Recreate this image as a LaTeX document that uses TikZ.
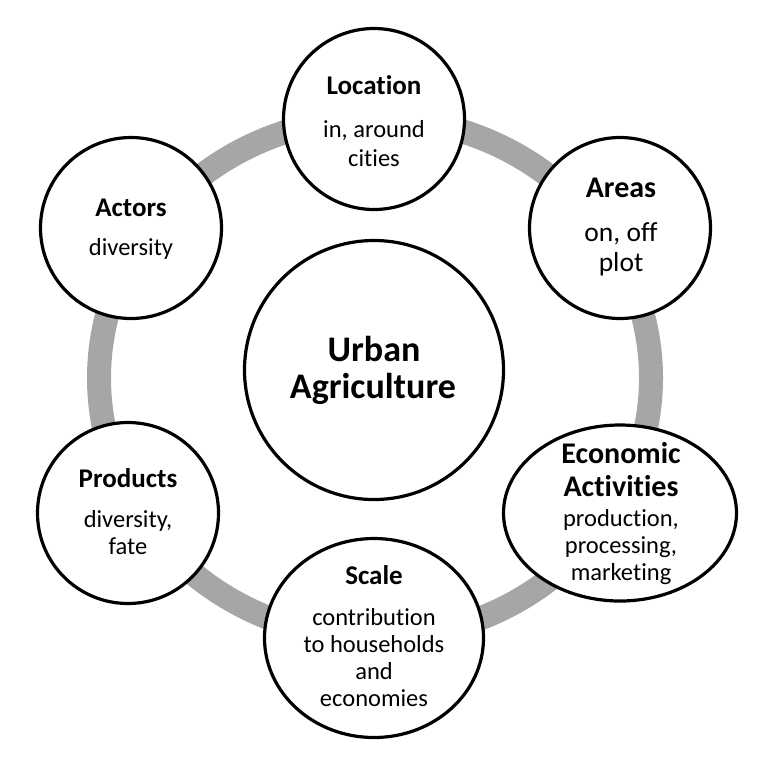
\documentclass[tikz,border=0pt]{standalone}
\usepackage{fontspec}
\setmainfont{Carlito}[Ligatures={NoCommon,NoRequired,NoContextual}]
\usetikzlibrary{shapes.geometric}
\definecolor{ringgray}{RGB}{166,166,166}
\tikzset{
  ring/.style={draw=ringgray, line width=24pt},
  bubble/.style={circle, draw=black, line width=3.2pt, fill=white, inner sep=0pt},
  oval/.style={ellipse, draw=black, line width=3.2pt, fill=white, inner sep=0pt},
  ttl/.style={anchor=base, inner sep=0pt, font=\bfseries\fontsize{27}{30}\selectfont},
  ttlbig/.style={anchor=base, inner sep=0pt, font=\bfseries\fontsize{30}{33}\selectfont},
  txt/.style={anchor=base, inner sep=0pt, font=\fontsize{24.5}{28}\selectfont},
  txtbig/.style={anchor=base, inner sep=0pt, font=\fontsize{27.5}{30}\selectfont},
  hub/.style={anchor=base, inner sep=0pt, font=\bfseries\fontsize{36}{40}\selectfont}
}
\begin{document}
\begin{tikzpicture}[x=1pt,y=-1pt]
\useasboundingbox (0,0) rectangle (775,764);
\fill[white] (0,0) rectangle (775,764);
% gray ring
\draw[ring] (375,378) ellipse [x radius=276, y radius=260];
% shapes
\node[bubble, minimum size=259pt] (center) at (374,370) {};
\node[bubble, minimum size=181pt] (location) at (374,119) {};
\node[bubble, minimum size=181pt] (areas) at (620,228) {};
\node[oval, minimum width=233pt, minimum height=176pt] (econ) at (620,513) {};
\node[oval, minimum width=219pt, minimum height=199pt] (scale) at (374,638) {};
\node[bubble, minimum size=181pt] (products) at (128,513) {};
\node[bubble, minimum size=181pt] (actors) at (131,228) {};
% texts
\node[hub] (c1) at (374,361) {Urban};
\node[hub] (c2) at (373,398) {Agriculture};
\node[ttl] (l1) at (374,94) {Location};
\node[txt] (l2) at (374,137) {in, around};
\node[txt] (l3) at (374,166) {cities};
\node[ttlbig] (a1) at (621,197) {Areas};
\node[txtbig] (a2) at (621,241) {on, off};
\node[txtbig] (a3) at (621,271) {plot};
\node[ttlbig] (e1) at (621,463) {Economic};
\node[ttlbig] (e2) at (621,496) {Activities};
\node[txt] (e3) at (621,526) {production,};
\node[txt] (e4) at (621,553) {processing,};
\node[txt] (e5) at (621,580) {marketing};
\node[ttl] (s1) at (374,584) {Scale};
\node[txt] (s2) at (374,625) {contribution};
\node[txt] (s3) at (374,652) {to households};
\node[txt] (s4) at (374,679) {and};
\node[txt] (s5) at (374,706) {economies};
\node[ttl] (p1) at (128,487) {Products};
\node[txt] (p2) at (128,527) {diversity,};
\node[txt] (p3) at (128,554) {fate};
\node[ttl] (t1) at (131,216) {Actors};
\node[txt] (t2) at (131,255) {diversity};
\end{tikzpicture}
\end{document}
